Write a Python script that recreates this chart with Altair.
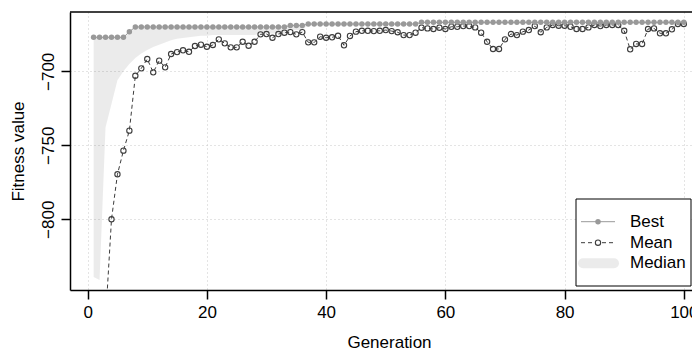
import altair as alt
import pandas as pd

FONT = "Liberation Sans"

generation = list(range(1, 101))

best = [
    -677.0, -677.0, -677.0, -677.0, -677.0, -677.0, -673.2, -670.0, -670.0, -670.0,
    -670.0, -670.0, -670.0, -670.0, -670.0, -670.0, -670.0, -670.0, -670.0, -670.0,
    -670.0, -670.0, -670.0, -670.0, -670.0, -670.0, -670.0, -670.0, -670.0, -670.0,
    -670.0, -670.0, -670.0, -669.0, -669.0, -669.0, -668.0, -668.0, -668.0, -668.0,
    -668.0, -668.0, -668.0, -668.0, -668.0, -668.0, -668.0, -668.0, -668.0, -668.0,
    -668.0, -668.0, -668.0, -668.0, -668.0, -666.9, -666.9, -666.9, -666.9, -666.9,
    -666.9, -666.9, -666.9, -666.9, -666.9, -666.9, -666.9, -666.9, -666.9, -666.9,
    -666.9, -666.9, -666.9, -666.9, -666.9, -666.9, -666.9, -666.9, -666.9, -666.9,
    -666.9, -666.9, -666.9, -666.9, -666.9, -666.9, -666.9, -666.9, -666.9, -666.9,
    -666.9, -666.9, -666.9, -666.9, -666.9, -666.9, -666.9, -666.9, -666.9, -666.9,
]

mean = [
    -1050.0, -960.0, -868.0, -800.0, -769.6, -753.6, -740.1, -703.0, -698.0, -691.7,
    -700.7, -692.8, -697.3, -688.3, -687.0, -685.8, -686.8, -682.9, -682.0, -683.4,
    -682.2, -678.4, -681.1, -683.8, -683.8, -680.0, -682.7, -680.0, -675.0, -674.8,
    -677.3, -674.8, -673.9, -673.5, -675.0, -673.5, -680.4, -680.4, -676.6, -677.3,
    -677.0, -676.0, -682.4, -676.1, -673.2, -672.6, -672.6, -672.8, -672.6, -672.1,
    -672.8, -673.6, -675.5, -675.5, -673.9, -670.5, -671.0, -671.4, -670.5, -671.4,
    -669.9, -669.9, -669.4, -669.4, -670.3, -673.9, -680.0, -684.9, -684.9, -678.4,
    -674.8, -675.5, -673.2, -672.1, -669.4, -673.6, -670.3, -668.7, -669.2, -669.2,
    -669.9, -671.4, -671.4, -670.3, -668.7, -669.4, -668.7, -668.7, -668.7, -672.6,
    -685.1, -681.5, -681.5, -671.4, -671.0, -674.3, -674.3, -671.6, -668.0, -668.0,
]

median = [
    -839.0, -841.0, -738.0, -722.0, -706.0, -700.0, -695.0, -691.0, -688.0, -685.5,
    -683.5, -682.0, -680.5, -679.0, -678.0, -677.5, -677.0, -676.5, -676.0, -676.0,
    -675.5, -675.5, -675.5, -675.5, -675.5, -675.5, -675.5, -675.5, -674.5, -674.5,
    -674.5, -674.5, -674.5, -672.0, -672.0, -672.0, -668.5, -668.5, -668.5, -668.5,
    -668.5, -668.5, -668.5, -668.5, -668.5, -668.5, -668.5, -668.5, -668.5, -668.5,
    -668.5, -668.5, -668.5, -668.5, -668.5, -667.4, -667.4, -667.4, -667.4, -667.4,
    -667.4, -667.4, -667.4, -667.4, -667.4, -667.4, -667.4, -667.4, -667.4, -667.4,
    -667.4, -667.4, -667.4, -667.4, -667.4, -667.4, -667.4, -667.4, -667.4, -667.4,
    -667.4, -667.4, -667.4, -667.4, -667.4, -667.4, -667.4, -667.4, -667.4, -667.4,
    -667.4, -667.4, -667.4, -667.4, -667.4, -667.4, -667.4, -667.4, -667.4, -667.4,
]

x_ticks = [0, 20, 40, 60, 80, 100]
y_ticks = [-800, -750, -700]
legend_labels = ["Best", "Mean", "Median"]

df = pd.DataFrame({"Generation": generation, "Best": best, "Mean": mean, "Median": median})
one = pd.DataFrame({"k": [0]})

BEST_C = "#999999"
MEAN_C = "#3c3c3c"
BAND_C = "#ebebeb"
GRID_C = "#c8c8c8"
W, H = 622, 278

xs = alt.Scale(domain=[-2.96, 101.37], nice=False, zero=False)
ys = alt.Scale(domain=[-847.8, -659.9], nice=False, zero=False)

x_axis = alt.Axis(
    values=x_ticks, title="Generation", grid=True, gridColor=GRID_C, gridDash=[1, 3],
    gridWidth=1, domainColor="black", domainWidth=1.5, tickColor="black", tickWidth=1.5,
    tickSize=9, labelFontSize=17, labelPadding=5, labelColor="black", labelFont=FONT,
    labelFlush=False, labelOverlap=False, titleFont=FONT, titleFontSize=17,
    titleFontWeight="normal", titleColor="black", titleX=319, titleY=52,
    titleBaseline="middle", titleAlign="center",
)
y_axis = alt.Axis(
    values=y_ticks, title="Fitness value", grid=True, gridColor=GRID_C, gridDash=[1, 3],
    gridWidth=1, domainColor="black", domainWidth=1.5, tickColor="black", tickWidth=1.5,
    tickSize=9, labelFontSize=17, labelPadding=4, labelColor="black", labelFont=FONT,
    labelAngle=270, labelAlign="center", labelBaseline="bottom", labelFlush=False,
    labelOverlap=False, titleFont=FONT, titleFontSize=17, titleFontWeight="normal",
    titleColor="black", titleAngle=270, titleX=-52, titleY=139, titleAlign="center",
    titleBaseline="middle",
)

X = alt.X("Generation:Q", scale=xs, axis=x_axis)


def Y(field):
    return alt.Y(field, type="quantitative", scale=ys, axis=y_axis)


base = alt.Chart(df)
band = base.mark_area(color="black", opacity=0.08, clip=True, orient="vertical").encode(
    x=X, y=Y("Median"), y2="Best:Q",
)
mean_line = base.mark_line(color=MEAN_C, strokeDash=[4, 3], strokeWidth=1, clip=True).encode(
    x=X, y=Y("Mean"),
)
mean_pts = base.mark_point(shape="circle", filled=False, color=MEAN_C, size=28,
                           strokeWidth=1.1, opacity=1, clip=True).encode(
    x=X, y=Y("Mean"),
)
best_line = base.mark_line(color=BEST_C, strokeWidth=1, clip=True).encode(
    x=X, y=Y("Best"),
)
best_pts = base.mark_point(shape="circle", filled=True, color=BEST_C, size=30,
                           opacity=1, clip=True).encode(
    x=X, y=Y("Best"),
)

top_border = alt.Chart(one).mark_rule(color="black", strokeWidth=1.5).encode(
    x=alt.value(0), x2=alt.value(W), y=alt.value(0)
)

# legend (bottom right, drawn by hand like R's legend())
LX0, LX1, LY0, LY1 = 506, 621, 187, 274
rows = [209.7, 230.7, 251.3]
leg_box = alt.Chart(one).mark_rect(fill="white", stroke="black", strokeWidth=1).encode(
    x=alt.value(LX0), x2=alt.value(LX1), y=alt.value(LY0), y2=alt.value(LY1)
)
leg_best_l = alt.Chart(one).mark_rule(color=BEST_C, strokeWidth=1).encode(
    x=alt.value(511), x2=alt.value(545), y=alt.value(rows[0])
)
leg_best_p = alt.Chart(one).mark_point(shape="circle", filled=True, color=BEST_C, size=30, opacity=1).encode(
    x=alt.value(528), y=alt.value(rows[0])
)
leg_mean_l = alt.Chart(one).mark_rule(color=MEAN_C, strokeWidth=1, strokeDash=[4, 3]).encode(
    x=alt.value(511), x2=alt.value(545), y=alt.value(rows[1])
)
leg_mean_p = alt.Chart(one).mark_point(shape="circle", filled=False, fill="white", color=MEAN_C,
                                       size=28, strokeWidth=1.1, opacity=1).encode(
    x=alt.value(528), y=alt.value(rows[1])
)
leg_med = alt.Chart(one).mark_rule(color=BAND_C, strokeWidth=10, strokeCap="round").encode(
    x=alt.value(513), x2=alt.value(544), y=alt.value(rows[2])
)
leg_texts = [
    alt.Chart(one).mark_text(text=lab, align="left", baseline="middle", fontSize=17,
                             font=FONT, color="black").encode(x=alt.value(560), y=alt.value(r))
    for lab, r in zip(legend_labels, rows)
]

chart = alt.layer(
    band, mean_line, mean_pts, best_line, best_pts, top_border,
    leg_box, leg_best_l, leg_best_p, leg_mean_l, leg_mean_p, leg_med, *leg_texts,
).properties(
    width=W, height=H,
    padding={"left": 62, "top": 4, "right": 0, "bottom": 62},
    autosize=alt.AutoSizeParams(type="none"),
    background="white",
).configure(font=FONT).configure_view(stroke=None)

chart.save("out.html", embed_options={"renderer": "svg", "actions": False})
